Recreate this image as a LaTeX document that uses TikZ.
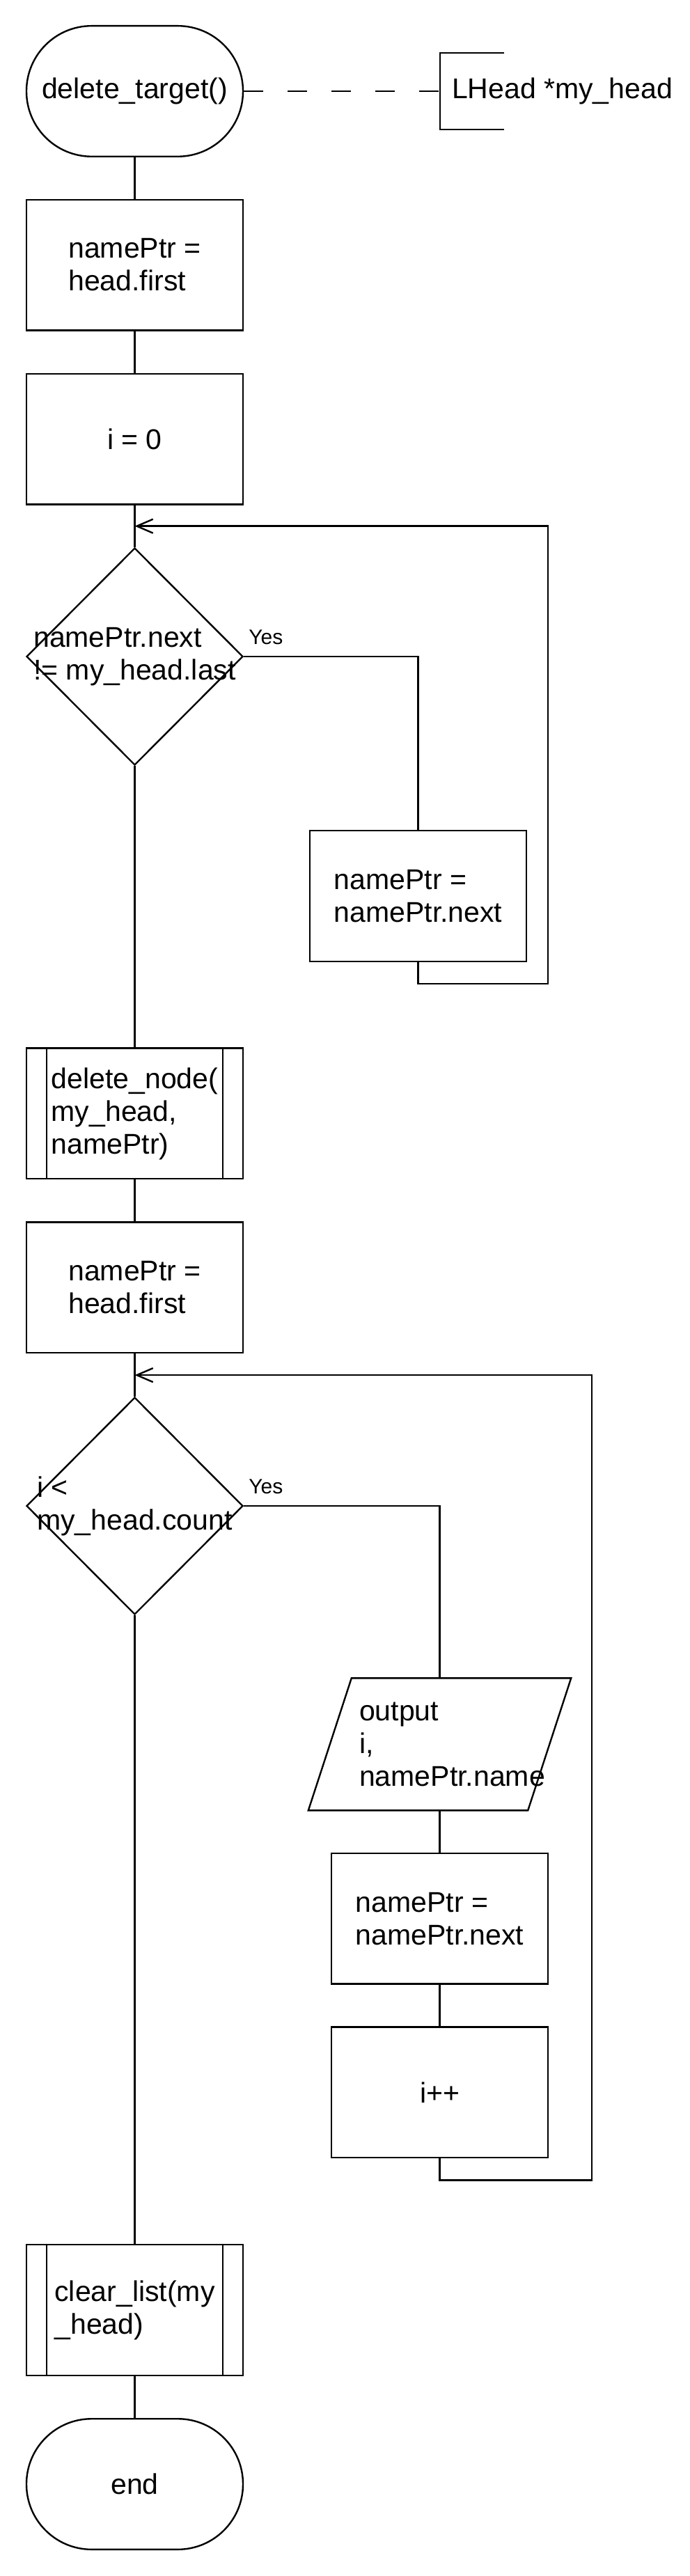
\documentclass[tikz,border=0pt]{standalone}
\usepackage{fontspec}
\setmainfont{Liberation Sans}
\usepackage{xcolor}
\usepackage[]{tikz}
\usetikzlibrary{positioning,shapes.geometric,calc}
\usetikzlibrary{arrows.meta}
\newcommand{\flowFont}{\fontsize{10.25pt}{11.75pt}\selectfont}
\newcommand{\yesFont}{\fontsize{7.5pt}{9pt}\selectfont}
\tikzstyle{nodeTerm} =[draw, rectangle, rounded corners=23.4pt, minimum width=77.75pt, minimum height=46.9pt, inner sep=0pt, font=\flowFont]
\tikzstyle{nodeProc} =[draw, rectangle, minimum width=77.75pt, minimum height=46.9pt, inner sep=0pt, align=left, font=\flowFont]
\tikzstyle{nodeDec}  =[draw, diamond, aspect=1, minimum width=77.75pt, minimum height=78pt, inner sep=0pt]
\tikzstyle{nodeIO}   =[rectangle, minimum width=78.25pt, minimum height=46.9pt, inner sep=0pt]
\tikzstyle{nodeText} =[align=left, font=\flowFont, inner sep=0pt]
\tikzstyle{nodeNote} =[font=\flowFont, inner xsep=4pt, inner ysep=0pt, minimum height=27pt]
\tikzstyle{labelYes} =[font=\yesFont, anchor=south west, inner sep=0pt, xshift=1.5pt, yshift=4pt]

\begin{document}
\begin{tikzpicture}[>={Straight Barb[length=5.8pt,width=5pt]}, line width=0.6pt, on grid]
      \useasboundingbox (0,0) rectangle (247.75pt,-925pt);
      \node[nodeTerm] (start) at (48.375pt,-32.75pt) {delete\_target()};
      \node[nodeNote] (note) [right=109.6pt of start, anchor=west] {LHead *my\_head};
      \node[nodeProc] (b1) [below=62.4pt of start] {namePtr =\\head.first};
      \node[nodeProc] (b2) [below=62.5pt of b1] {i = 0};
      \node[nodeDec, label={[nodeText]center:{namePtr.next\\!= my\_head.last}}] (d1) [below=78.1pt of b2] {};
      \node[nodeProc] (b3) [below right=86pt and 101.75pt of d1] {namePtr =\\namePtr.next};
      \node[nodeProc] (s1) [below=164.1pt of d1] {delete\_node(\\my\_head,\\namePtr)};
      \node[nodeProc] (b4) [below=62.5pt of s1] {namePtr =\\head.first};
      \node[nodeDec, label={[nodeText]center:{i <\\my\_head.count}}] (d2) [below=78.4pt of b4] {};
      \node[nodeIO, label={[nodeText, xshift=4.5pt]center:{output\\i,\\namePtr.name}}] (p) [below right=85.6pt and 109.5pt of d2] {};
      \node[nodeProc] (b5) [below=62.6pt of p] {namePtr =\\namePtr.next};
      \node[nodeProc] (b6) [below=62.4pt of b5] {i++};
      \node[nodeProc] (s2) [below=288.75pt of d2] {clear\_list(my\\\_head)};
      \node[nodeTerm] (stop) [below=62.5pt of s2] {end};

      % output slanted box
      \draw ([xshift=7.75pt]p.north west) -- ([xshift=7.75pt]p.north east)
            -- ([xshift=-7.75pt]p.south east) -- ([xshift=-7.75pt]p.south west) -- cycle;

      % comment bracket
      \draw[dash pattern=on 7pt off 8.75pt] (start) -- (note);
      \draw ([xshift=23pt]note.north west) -- (note.north west) -- (note.south west) -- ([xshift=23pt]note.south west);

      % subroutine sides
      \foreach \n in {s1,s2}
        \draw ([xshift=7.5pt]\n.north west) -- ([xshift=7.5pt]\n.south west)
              ([xshift=-7.5pt]\n.north east) -- ([xshift=-7.5pt]\n.south east);

      \draw (start) -- (b1) -- (b2) -- (d1) -- (s1) -- (b4) -- (d2) -- (s2) -- (stop);
      \draw (d1.east) -- node[labelYes, pos=0] {Yes} (d1.east -| b3.north) -- (b3.north);
      \draw (d2.east) -- node[labelYes, pos=0] {Yes} (d2.east -| p.north) -- (p.north);
      \draw (p) -- (b5) -- (b6);

      % loops back
      \coordinate (j1) at ($(b2.south)!0.5!(d1.north)$);
      \coordinate[right=148.4pt of j1] (r1);
      \draw[->] (b3.south) -- ++(0,-7.75pt) -| (r1) -- (j1);
      \coordinate (j2) at ($(b4.south)!0.5!(d2.north)$);
      \coordinate[right=164.1pt of j2] (r2);
      \draw[->] (b6.south) -- ++(0,-7.75pt) -| (r2) -- (j2);
    \end{tikzpicture}
\end{document}
